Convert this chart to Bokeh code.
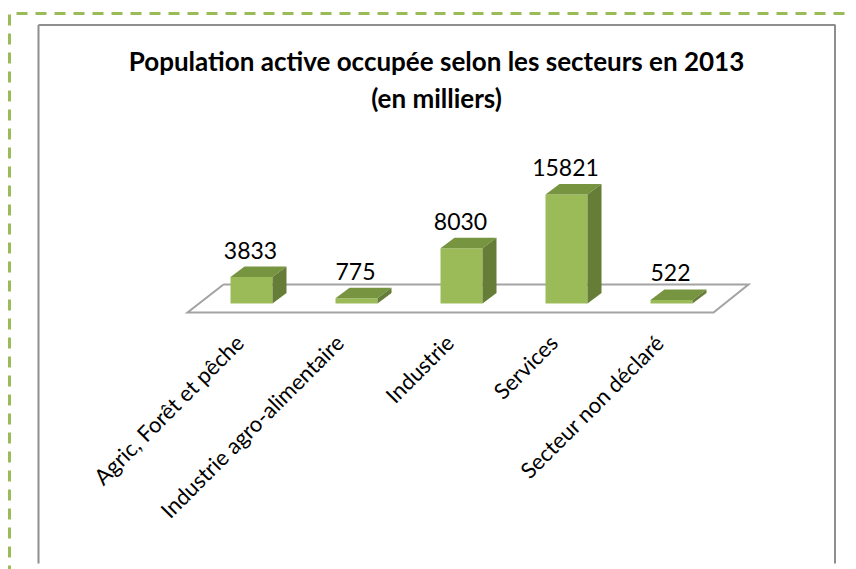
from math import pi
from bokeh.plotting import figure
from bokeh.models import Range1d, ColumnDataSource
from bokeh.core.properties import value
from bokeh.embed import file_html
from bokeh.resources import INLINE

categories = ["Agric, Forêt et pêche", "Industrie agro-alimentaire", "Industrie", "Services", "Secteur non déclaré"]
values = [3833, 775, 8030, 15821, 522]
title_lines = ["Population active occupée selon les secteurs en 2013", "(en milliers)"]

FONT = "Lato"
W, H = 856, 569
PX_PER_CAT = 105.0
CAT0_PX = 251.0
BASE_PX = 303.0
PX_PER_VAL = 109.0 / 15821
PAGE = 0


def xd(px):
    return (px - CAT0_PX) / PX_PER_CAT


def yd(px):
    return (BASE_PX - px) / PX_PER_VAL


p = figure(width=W, height=H, output_backend="svg", toolbar_location=None,
           x_range=Range1d(xd(PAGE), xd(PAGE + W)), y_range=Range1d(yd(PAGE + H), yd(PAGE)),
           x_axis_type=None, y_axis_type=None, min_border=0,
           background_fill_color="white", border_fill_color="white", outline_line_color=None)
p.grid.visible = False

# page decoration: dashed frame and chart frame
p.multi_line([[xd(16), xd(848)], [xd(9), xd(9)]], [[yd(13), yd(13)], [yd(14), yd(569)]],
             line_color="#9BBB59", line_width=3, line_dash="11 8")
p.multi_line([[xd(38), xd(38)], [xd(38), xd(835)], [xd(834.5), xd(834.5)]],
             [[yd(563), yd(24.5)], [yd(24.5), yd(24.5)], [yd(24.5), yd(563)]],
             line_color="#8E8E8E", line_width=2)

# floor
p.line([xd(223), xd(748), xd(713), xd(187), xd(223)],
       [yd(284), yd(284), yd(312), yd(312), yd(284)],
       line_color="#A3A3A3", line_width=2, line_join="miter")

# bars
half = 21.0 / PX_PER_CAT
dx = 14.0 / PX_PER_CAT
dy = 10.5 / PX_PER_VAL
xs = list(range(len(values)))
p.vbar(x=xs, top=values, bottom=0, width=2 * half, fill_color="#9BBB59", line_color=None)
top_xs = [[i - half, i + half, i + half + dx, i - half + dx] for i in xs]
top_ys = [[v, v, v + dy, v + dy] for v in values]
p.patches(top_xs, top_ys, fill_color="#779440", line_color=None)
side_xs = [[i + half, i + half + dx, i + half + dx, i + half] for i in xs]
side_ys = [[0, dy, v + dy, v] for v in values]
p.patches(side_xs, side_ys, fill_color="#657D37", line_color=None)

# value labels
p.text(x=[i - 1 / PX_PER_CAT for i in xs], y=[v + 27 / PX_PER_VAL for v in values], text=[str(v) for v in values],
       text_font=value(FONT), text_font_size="23px", text_color="#000000",
       text_align="center", text_baseline="middle")

# category labels
label_shift_px = [-12, -17, -12, -13, -12]
src = ColumnDataSource(dict(x=[i + s / PX_PER_CAT for i, s in zip(xs, label_shift_px)], y=[yd(338)] * 5, t=categories))
p.text(x="x", y="y", text="t", source=src, angle=pi / 4,
       text_font=value(FONT), text_font_size="22px", text_color="#000000",
       text_align="right", text_baseline="middle")

# title
p.text(x=[xd(436), xd(436)], y=[yd(60), yd(97)], text=title_lines,
       text_font=value(FONT), text_font_size="26px", text_font_style="bold", text_color="#000000",
       text_align="center", text_baseline="middle")

open("out.html", "w").write(file_html(p, INLINE))
